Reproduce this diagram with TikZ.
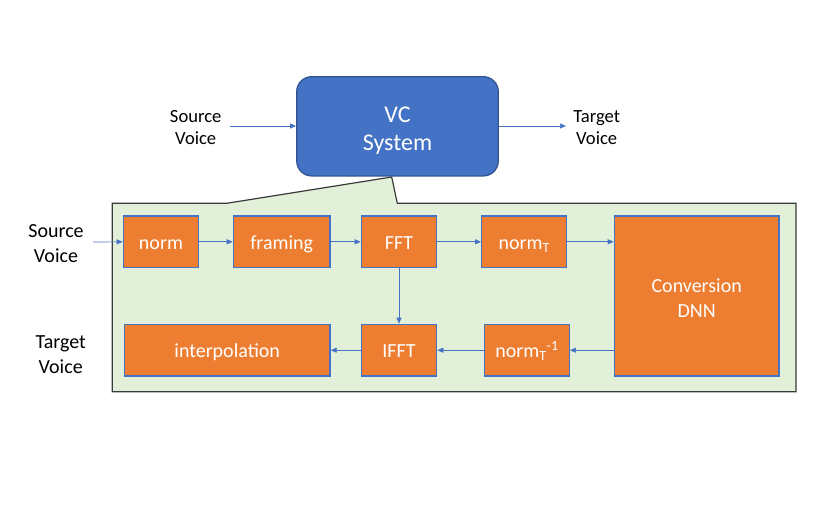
\documentclass[tikz,border=0pt]{standalone}
\usepackage{fontspec}
\setmainfont{Carlito}
\usetikzlibrary{arrows.meta}
\definecolor{vcblue}{HTML}{4472C4}
\definecolor{vcborder}{HTML}{2F528F}
\definecolor{boxorange}{HTML}{ED7D31}
\definecolor{boxborder}{HTML}{4472C4}
\definecolor{panelgreen}{HTML}{E2EFD9}
\definecolor{panelborder}{HTML}{3A3A3A}
\begin{document}
\begin{tikzpicture}[x=1pt,y=-1pt,
  obox/.style={draw=boxborder, line width=1.3pt, fill=boxorange, text=white, inner sep=0pt,
     minimum height=51.7pt, font=\fontsize{20}{24}\selectfont, align=center},
  sbox/.style={obox, text height=17pt, text depth=2pt},
  lbl/.style={align=center, inner sep=0pt},
  conn/.style={draw=vcblue, line width=0.7pt, -{Triangle[length=6pt,width=5pt]}}
]
\useasboundingbox (0,0) rectangle (828,506);
% panel with callout pointer
\path[fill=panelgreen, draw=panelborder, line width=1.2pt]
  (112.3,203.3) -- (226.7,203.3) -- (391.7,177) -- (397.3,203.3) -- (796,203.3)
  -- (796,391.7) -- (112.3,391.7) -- cycle;
% top system
\node[draw=vcborder, line width=1.2pt, fill=vcblue, inner sep=0pt, rounded corners=15pt,
  minimum width=201.6pt, minimum height=99.3pt] (vc) at (397.5,126.3) {};
\node[lbl, text=white, font=\fontsize{24}{28}\selectfont] (vctext) at (397.5,131) {VC\\System};
\node[lbl, font=\fontsize{18.6}{22}\selectfont] (srcT) at (195.7,127.5) {Source\\Voice};
\node[lbl, font=\fontsize{18.6}{22}\selectfont] (tgtT) at (596.7,127.5) {Target\\Voice};
\coordinate (s1) at (230,126);
\coordinate (t1) at (566,126);
\draw[conn] (s1) -- (s1 -| vc.west);
\draw[conn] (t1 -| vc.east) -- (t1);
% inner blocks
\node[sbox, minimum width=75.4pt] (norm) at (161,241.8) {norm};
\node[sbox, minimum width=96.7pt] (framing) at (281.7,241.8) {framing};
\node[sbox, minimum width=75.4pt] (fft) at (399,241.8) {FFT};
\node[sbox, minimum width=85pt] (normt) at (524.2,241.8) {norm\textsubscript{T}};
\node[obox, minimum width=164.7pt, minimum height=160pt] (dnn) at (696.7,296) {};
\node[lbl, text=white, font=\fontsize{20}{25}\selectfont] (dnntext) at (696.7,298.5) {Conversion\\DNN};
\node[sbox, minimum width=205.7pt] (interp) at (227.2,350.2) {interpolation};
\node[sbox, minimum width=75.4pt] (ifft) at (399,350.2) {IFFT};
\node[sbox, minimum width=84.6pt] (normti) at (527,350.2) {norm\textsubscript{T}\textsuperscript{-1}};
% left labels
\node[lbl, font=\fontsize{20}{25}\selectfont] (srcL) at (56,243.5) {Source\\Voice};
\node[lbl, font=\fontsize{20}{25}\selectfont] (tgtL) at (60.7,354.5) {Target\\Voice};
\coordinate (s0) at (93,242);
% connectors
\draw[conn] (s0) -- (norm.west);
\draw[conn] (norm) -- (framing);
\draw[conn] (framing) -- (fft);
\draw[conn] (fft) -- (normt);
\draw[conn] (normt.east) -- (normt.east -| dnn.west);
\draw[conn] (fft) -- (ifft);
\draw[conn] (normti.east -| dnn.west) -- (normti.east);
\draw[conn] (normti) -- (ifft);
\draw[conn] (ifft) -- (interp);
\end{tikzpicture}
\end{document}
